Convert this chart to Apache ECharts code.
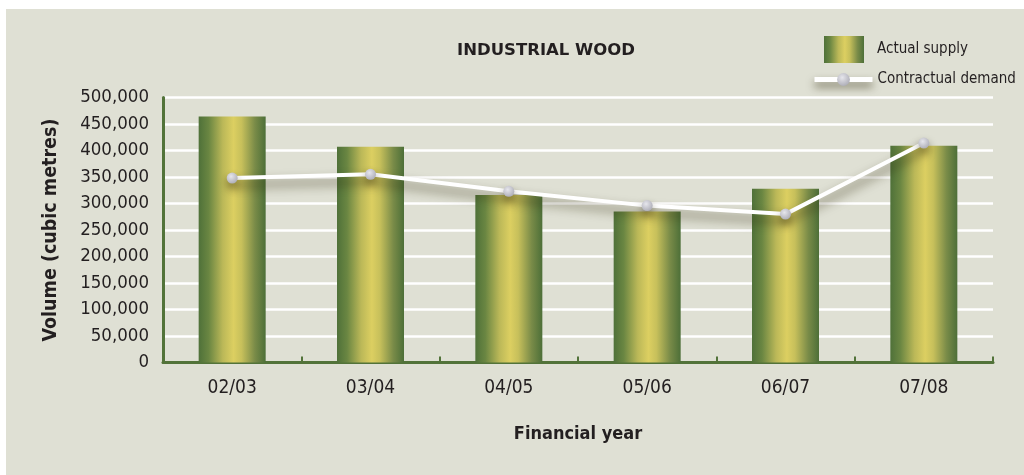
<!DOCTYPE html>
<html>
<head>
<meta charset="utf-8">
<script src="https://cdn.jsdelivr.net/npm/echarts@6/dist/echarts.min.js"></script>
<style>
  html, body { margin: 0; padding: 0; background: #ffffff; }
  #chart { width: 1024px; height: 475px; }
</style>
</head>
<body>
<div id="chart"></div>
<script>
// Industrial wood: actual supply vs contractual demand by financial year
const years = ['02/03', '03/04', '04/05', '05/06', '06/07', '07/08'];
const actualSupply = [464000, 407000, 316000, 285000, 328000, 409000];
const contractualDemand = [348000, 355000, 323000, 296000, 280000, 414000];
const yTicks = [0, 50000, 100000, 150000, 200000, 250000, 300000, 350000, 400000, 450000, 500000];

const FONT = '"DejaVu Sans Condensed", "DejaVu Sans", sans-serif';
const TITLE_FONT = '"DejaVu Sans", sans-serif';
const TEXT = '#231f20';
const GREEN = '#527339';

const barFill = new echarts.graphic.LinearGradient(0, 0, 1, 0, [
  { offset: 0, color: '#4f7139' },
  { offset: 0.15, color: '#6a8642' },
  { offset: 0.36, color: '#bbb858' },
  { offset: 0.52, color: '#dccf61' },
  { offset: 0.64, color: '#c7c05b' },
  { offset: 0.84, color: '#798b48' },
  { offset: 1, color: '#4d6f38' }
]);

const ballFill = new echarts.graphic.RadialGradient(0.4, 0.35, 0.7, [
  { offset: 0, color: '#e6e6ec' },
  { offset: 1, color: '#acacb6' }
]);

const chart = echarts.init(document.getElementById('chart'), null, { renderer: 'canvas' });

chart.setOption({
  backgroundColor: '#ffffff',
  animation: false,
  textStyle: { fontFamily: FONT },
  graphic: [{
    type: 'rect',
    z: -10,
    silent: true,
    shape: { x: 6, y: 9, width: 1018, height: 466 },
    style: { fill: '#dfe0d4' }
  }],
  title: {
    text: 'INDUSTRIAL WOOD',
    left: 452,
    top: 37,
    textStyle: {
      fontFamily: TITLE_FONT,
      fontSize: 16.5,
      fontWeight: 'bold',
      color: TEXT
    }
  },
  legend: [{
    data: [{ name: 'Actual supply', icon: 'rect' }],
    left: 819,
    top: 31,
    itemWidth: 40,
    itemHeight: 27,
    itemGap: 0,
    textStyle: { fontFamily: FONT, fontSize: 15, color: TEXT, padding: [4, 0, 0, 8] },
    selectedMode: false
  }, {
    data: ['Contractual demand'],
    left: 807,
    top: 67,
    itemWidth: 58,
    itemHeight: 16,
    lineStyle: {
      color: '#ffffff',
      width: 5,
      shadowColor: 'rgba(45,38,8,0.6)',
      shadowBlur: 8,
      shadowOffsetY: 5
    },
    textStyle: { fontFamily: FONT, fontSize: 15, color: TEXT, padding: [0, 0, 0, 0] },
    selectedMode: false
  }],
  grid: {
    left: 163,
    right: 31,
    top: 97.5,
    bottom: 112.5,
    containLabel: false
  },
  xAxis: {
    type: 'category',
    data: years,
    name: 'Financial year',
    nameLocation: 'middle',
    nameGap: 63,
    nameTextStyle: { fontFamily: FONT, fontSize: 18, fontWeight: 'bold', color: TEXT },
    axisLine: { show: true, lineStyle: { color: GREEN, width: 3 } },
    axisTick: { show: true, inside: true, length: 6, lineStyle: { color: GREEN, width: 2 } },
    axisLabel: { fontFamily: FONT, fontSize: 19, color: TEXT, margin: 16 },
    splitLine: { show: false }
  },
  yAxis: {
    type: 'value',
    min: 0,
    max: 500000,
    interval: 50000,
    name: 'Volume (cubic metres)',
    nameLocation: 'middle',
    nameRotate: 90,
    nameGap: 102,
    nameTextStyle: { fontFamily: FONT, fontSize: 19.5, fontWeight: 'bold', color: TEXT },
    axisLine: { show: true, lineStyle: { color: GREEN, width: 3 } },
    axisTick: { show: false },
    axisLabel: {
      fontFamily: FONT,
      fontSize: 18.5,
      color: TEXT,
      margin: 14,
      formatter: v => yTicks.includes(v) ? v.toLocaleString('en-US') : ''
    },
    splitLine: { show: true, lineStyle: { color: '#ffffff', width: 2.5 } }
  },
  series: [{
    name: 'Actual supply',
    type: 'bar',
    data: actualSupply,
    barWidth: 67,
    itemStyle: { color: barFill },
    z: 2
  }, {
    name: 'Contractual demand',
    type: 'line',
    data: contractualDemand,
    symbol: 'circle',
    symbolSize: 11,
    showSymbol: true,
    itemStyle: {
      color: ballFill,
      shadowColor: 'rgba(40,35,10,0.5)',
      shadowBlur: 8,
      shadowOffsetY: 5
    },
    lineStyle: {
      color: '#ffffff',
      width: 4,
      shadowColor: 'rgba(45,38,8,0.65)',
      shadowBlur: 11,
      shadowOffsetY: 7
    },
    z: 3
  }]
});
</script>
</body>
</html>
